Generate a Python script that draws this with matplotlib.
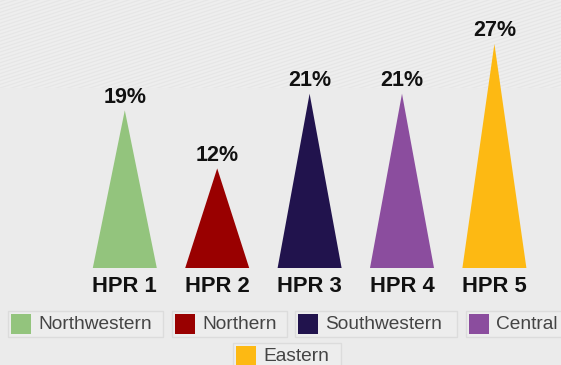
import matplotlib

matplotlib.use("Agg")
import matplotlib.pyplot as plt
import numpy as np
from matplotlib.patches import Rectangle

plt.rcParams["font.family"] = ["Liberation Sans", "DejaVu Sans"]

# data
categories = ["HPR 1", "HPR 2", "HPR 3", "HPR 4", "HPR 5"]
regions = ["Northwestern", "Northern", "Southwestern", "Central", "Eastern"]
shares = [19, 12, 21, 21, 27]
colors = ["#93c47d", "#990000", "#21134d", "#8b4d9e", "#fdb913"]

W, H = 561, 365
BG = "#ebebeb"

fig = plt.figure(figsize=(W / 100, H / 100), dpi=100)
fig.patch.set_facecolor(BG)

# pixel-space layer for the striped band and the legend boxes
deco = fig.add_axes([0, 0, 1, 1], zorder=0)
deco.set_xlim(0, W)
deco.set_ylim(H, 0)
deco.axis("off")

band = Rectangle((0, 0), W, 88, facecolor="#eeeeee", edgecolor="none")
deco.add_patch(band)
xs = np.array([0, W])
for c in np.arange(-200, 100, 3.6):
    ln, = deco.plot(xs, c + 180 - xs * 0.32, color="#e6e6e6", lw=0.9)
    ln.set_clip_path(band)

# triangles
ax = fig.add_axes([0, 0, 1, 1], zorder=1)
ax.patch.set_alpha(0)
ax.axis("off")
step, x0 = 92.4, 124.8
ppu, base = 8.3, 268
ax.set_xlim(-x0 / step, (W - x0) / step)
ax.set_ylim(-(H - base) / ppu, base / ppu)

half = 32 / step
for i, (v, col) in enumerate(zip(shares, colors)):
    ax.fill([i - half, i, i + half], [0, v, 0], color=col, lw=0)
    ax.annotate(f"{v}%", (i, v), xytext=(0, 2), textcoords="offset points",
                ha="center", va="bottom", fontsize=15.5, fontweight="bold",
                color="#111111")
    ax.annotate(categories[i], (i, 0), xytext=(0, -6), textcoords="offset points",
                ha="center", va="top", fontsize=15.8, fontweight="bold",
                color="#111111")

# legend: boxed entries, four on the first row, one centred below
boxes = [(8, 163, 311), (172, 287, 311), (295, 457, 311), (466, 575, 311),
         (233, 341, 343)]
for (l, r, t), name, col in zip(boxes, regions, colors):
    deco.add_patch(Rectangle((l, t), r - l, 26, facecolor="#ededed",
                             edgecolor="#dcdcdc", lw=1, zorder=2))
    deco.add_patch(Rectangle((l + 3, t + 3), 20, 20, facecolor=col,
                             edgecolor="none", zorder=3))
    deco.text(l + 30, t + 13.5, name, ha="left", va="center", fontsize=13.8,
              color="#444444", zorder=3)

fig.savefig("out.png", dpi=100, facecolor=BG)
